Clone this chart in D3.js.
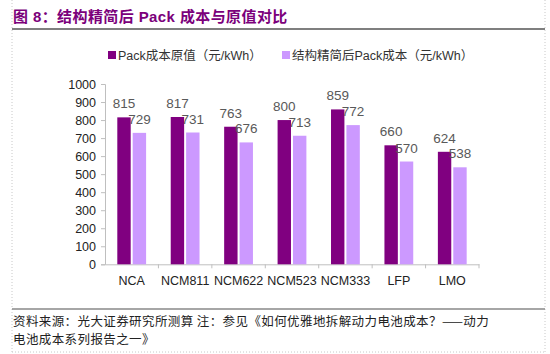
<!DOCTYPE html>
<html>
<head>
<meta charset="utf-8">
<script src="https://cdn.jsdelivr.net/npm/d3@7"></script>
<style>
  body { margin: 0; background: #fff; }
  svg { display: block; font-family: "Liberation Sans", Arial, "Noto Sans CJK SC", sans-serif; }
</style>
</head>
<body>
<div id="chart"></div>
<script>
var categories = ["NCA", "NCM811", "NCM622", "NCM523", "NCM333", "LFP", "LMO"];
var seriesNames = ["Pack成本原值（元/kWh）", "结构精简后Pack成本（元/kWh）"];
var originalCost = [815, 817, 763, 800, 859, 660, 624];
var simplifiedCost = [729, 731, 676, 713, 772, 570, 538];
var yTicks = [0, 100, 200, 300, 400, 500, 600, 700, 800, 900, 1000];
var colors = ["#800080", "#CC99FF"];

var width = 550, height = 354;

var svg = d3.select("#chart")
    .append("svg")
    .attr("width", width)
    .attr("height", height);

// frame
svg.append("line").attr("x1", 12).attr("x2", 12).attr("y1", 0).attr("y2", 352)
    .attr("stroke", "#c8c8c8").attr("stroke-dasharray", "1,2");
svg.append("line").attr("x1", 545).attr("x2", 545).attr("y1", 0).attr("y2", 352)
    .attr("stroke", "#c8c8c8").attr("stroke-dasharray", "1,2");
svg.append("line").attr("x1", 12).attr("x2", 545).attr("y1", 352).attr("y2", 352)
    .attr("stroke", "#c8c8c8").attr("stroke-dasharray", "1,2");

// title
svg.append("text")
    .attr("x", 13)
    .attr("y", 22)
    .attr("fill", "#7B007B")
    .attr("font-size", 15)
    .attr("font-weight", "bold")
    .attr("letter-spacing", 0.4)
    .text("图 8：结构精简后 Pack 成本与原值对比");
svg.append("line").attr("x1", 12).attr("x2", 545).attr("y1", 29).attr("y2", 29)
    .attr("stroke", "#555").attr("stroke-width", 1.5);

// scales
var x0 = d3.scaleBand()
    .domain(categories)
    .range([105, 479]);
var x1 = d3.scaleBand()
    .domain([0, 1])
    .range([12.3, 41.1])
    .paddingInner(0.13);
var y = d3.scaleLinear()
    .domain([0, 1000])
    .range([264.3, 84]);

// y axis
var yAxis = svg.append("g")
    .attr("transform", "translate(105,0)")
    .call(d3.axisLeft(y).tickValues(yTicks).tickFormat(d3.format("d")).tickSize(4).tickPadding(5));
yAxis.select(".domain").attr("stroke", "#bfbfbf");
yAxis.selectAll(".tick line").attr("stroke", "#bfbfbf");
yAxis.selectAll(".tick text")
    .attr("font-size", 12.5)
    .attr("fill", "#222")
    .style("font-family", "Liberation Sans, Arial, sans-serif");

// x axis
var xAxis = svg.append("g")
    .attr("transform", "translate(0,264.3)")
    .call(d3.axisBottom(x0).tickSize(0).tickPadding(12));
xAxis.select(".domain").attr("stroke", "#bfbfbf");
xAxis.selectAll(".tick text")
    .attr("font-size", 12.5)
    .attr("fill", "#222")
    .style("font-family", "Liberation Sans, Arial, sans-serif");
// category separator ticks
svg.append("g").selectAll("line")
    .data(categories.slice(1).concat(["end"]))
    .enter().append("line")
    .attr("x1", function(d, i) { return 105 + x0.step() * (i + 1); })
    .attr("x2", function(d, i) { return 105 + x0.step() * (i + 1); })
    .attr("y1", 264.3)
    .attr("y2", 268.3)
    .attr("stroke", "#bfbfbf");

// bars
var rows = categories.map(function(c, i) {
    return { cat: c, values: [originalCost[i], simplifiedCost[i]] };
});

var groups = svg.append("g")
    .selectAll("g")
    .data(rows)
    .enter().append("g")
    .attr("transform", function(d) { return "translate(" + x0(d.cat) + ",0)"; });

groups.selectAll("rect")
    .data(function(d) { return d.values.map(function(v, k) { return { k: k, v: v }; }); })
    .enter().append("rect")
    .attr("x", function(d) { return x1(d.k); })
    .attr("width", x1.bandwidth())
    .attr("y", function(d) { return y(d.v); })
    .attr("height", function(d) { return y(0) - y(d.v); })
    .attr("fill", function(d) { return colors[d.k]; });

groups.selectAll("text.val")
    .data(function(d) { return d.values.map(function(v, k) { return { k: k, v: v }; }); })
    .enter().append("text")
    .attr("class", "val")
    .attr("x", function(d) { return x1(d.k) + x1.bandwidth() / 2; })
    .attr("y", function(d) { return y(d.v) - 9; })
    .attr("text-anchor", "middle")
    .attr("font-size", 13.5)
    .attr("fill", "#595959")
    .text(function(d) { return d.v; });

// legend
var legendX = [108, 282];
var legend = svg.append("g")
    .selectAll("g")
    .data(seriesNames)
    .enter().append("g")
    .attr("transform", function(d, i) { return "translate(" + legendX[i] + ",51)"; });
legend.append("rect")
    .attr("width", 8)
    .attr("height", 8)
    .attr("fill", function(d, i) { return colors[i]; });
legend.append("text")
    .attr("x", 10)
    .attr("y", 8.5)
    .attr("font-size", 12.5)
    .attr("fill", "#333")
    .text(function(d) { return d; });

// footnote
svg.append("line").attr("x1", 12).attr("x2", 545).attr("y1", 309).attr("y2", 309)
    .attr("stroke", "#888").attr("stroke-width", 1.5);
var notes = ["资料来源：光大证券研究所测算 注：参见《如何优雅地拆解动力电池成本？——动力",
             "电池成本系列报告之一》"];
svg.append("g").selectAll("text")
    .data(notes)
    .enter().append("text")
    .attr("x", 13)
    .attr("y", function(d, i) { return 326 + i * 18; })
    .attr("font-size", 12.5)
    .attr("letter-spacing", 0.4)
    .attr("fill", "#222")
    .style("font-family", "Noto Sans CJK SC, sans-serif")
    .text(function(d) { return d; });
</script>
</body>
</html>
